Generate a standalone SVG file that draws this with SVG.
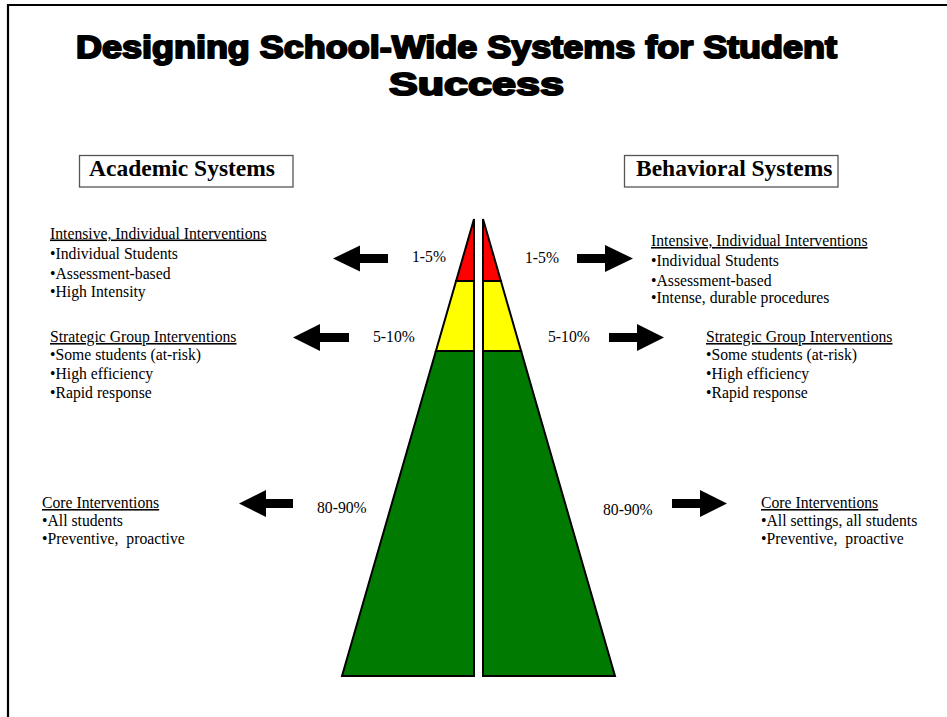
<svg xmlns="http://www.w3.org/2000/svg" width="947" height="717" viewBox="0 0 947 717">
<style>
.title{font-family:"Liberation Sans",Arial,sans-serif;font-weight:900;font-size:32px;fill:#000;stroke:#000;stroke-width:2px;stroke-linejoin:round}
.hdr{font-family:"Liberation Serif","Times New Roman",serif;font-weight:bold;font-size:23.5px;fill:#000}
.txt{font-family:"Liberation Serif","Times New Roman",serif;font-size:15.7px;fill:#000}
.u{text-decoration:underline}
.box{fill:#fff;stroke:#555;stroke-width:1.3}
.arrow{fill:#000}
.tier{stroke:#000;stroke-width:2;stroke-linejoin:miter}
.red{fill:#FF0000}.yel{fill:#FFFF00}.grn{fill:#007A00}
</style>
<rect x="0" y="0" width="947" height="717" fill="#fff"/>
<path d="M8,717 V5 H947" fill="none" stroke="#000" stroke-width="2.2"/>
<g id="title">
<text class="title" x="76" y="58" textLength="761" lengthAdjust="spacingAndGlyphs">Designing School-Wide Systems for Student</text>
<text class="title" x="389" y="95" textLength="175" lengthAdjust="spacingAndGlyphs">Success</text>
</g>
<g id="academic-header">
<rect class="box" x="79.5" y="155.5" width="213.5" height="31.5"/>
<text class="hdr" x="89" y="176">Academic Systems</text>
</g>
<g id="behavioral-header">
<rect class="box" x="624.5" y="155.5" width="213.5" height="31.5"/>
<text class="hdr" x="636" y="176">Behavioral Systems</text>
</g>
<g id="pyramid-left">
<polygon class="tier red" points="474,219 474,281 456.1,281"/>
<polygon class="tier yel" points="456.1,281 474,281 474,351 435.9,351"/>
<polygon class="tier grn" points="435.9,351 474,351 474,676 342,676"/>
</g>
<g id="pyramid-right">
<polygon class="tier red" points="483,219 500.9,281 483,281"/>
<polygon class="tier yel" points="483,281 500.9,281 521.1,351 483,351"/>
<polygon class="tier grn" points="483,351 521.1,351 615,676 483,676"/>
</g>
<g id="connectors">
<polygon class="arrow" points="333,258.5 360,245.5 360,254 388,254 388,263 360,263 360,271.5"/>
<polygon class="arrow" points="577,254 605,254 605,245 633,258.5 605,272 605,263 577,263"/>
<polygon class="arrow" points="293,337.5 320,324 320,333 349,333 349,342 320,342 320,351"/>
<polygon class="arrow" points="609,333 637,333 637,324 664,337.5 637,351 637,342 609,342"/>
<polygon class="arrow" points="239,503.5 266,490 266,499 293,499 293,508 266,508 266,517"/>
<polygon class="arrow" points="672,499 700,499 700,490 727,503.5 700,517 700,508 672,508"/>
</g>
<g id="pct-labels">
<text class="txt" x="412" y="262">1-5%</text>
<text class="txt" x="525" y="263">1-5%</text>
<text class="txt" x="373" y="342">5-10%</text>
<text class="txt" x="548" y="342">5-10%</text>
<text class="txt" x="317" y="513">80-90%</text>
<text class="txt" x="603" y="515">80-90%</text>
</g>
<g id="academic-intensive">
<text class="txt u" x="50" y="238.5">Intensive, Individual Interventions</text>
<text class="txt" x="50" y="258.5">•Individual Students</text>
<text class="txt" x="50" y="278.5">•Assessment-based</text>
<text class="txt" x="50" y="296.5">•High Intensity</text>
</g>
<g id="academic-strategic">
<text class="txt u" x="50" y="342">Strategic Group Interventions</text>
<text class="txt" x="50" y="360">•Some students (at-risk)</text>
<text class="txt" x="50" y="379">•High efficiency</text>
<text class="txt" x="50" y="398">•Rapid response</text>
</g>
<g id="academic-core">
<text class="txt u" x="42" y="508">Core Interventions</text>
<text class="txt" x="42" y="526">•All students</text>
<text class="txt" x="42" y="544" xml:space="preserve">•Preventive,  proactive</text>
</g>
<g id="behavioral-intensive">
<text class="txt u" x="651" y="246">Intensive, Individual Interventions</text>
<text class="txt" x="651" y="265.5">•Individual Students</text>
<text class="txt" x="651" y="285.5">•Assessment-based</text>
<text class="txt" x="651" y="303">•Intense, durable procedures</text>
</g>
<g id="behavioral-strategic">
<text class="txt u" x="706" y="342">Strategic Group Interventions</text>
<text class="txt" x="706" y="360">•Some students (at-risk)</text>
<text class="txt" x="706" y="379">•High efficiency</text>
<text class="txt" x="706" y="398">•Rapid response</text>
</g>
<g id="behavioral-core">
<text class="txt u" x="761" y="508">Core Interventions</text>
<text class="txt" x="761" y="526">•All settings, all students</text>
<text class="txt" x="761" y="544" xml:space="preserve">•Preventive,  proactive</text>
</g>
</svg>
